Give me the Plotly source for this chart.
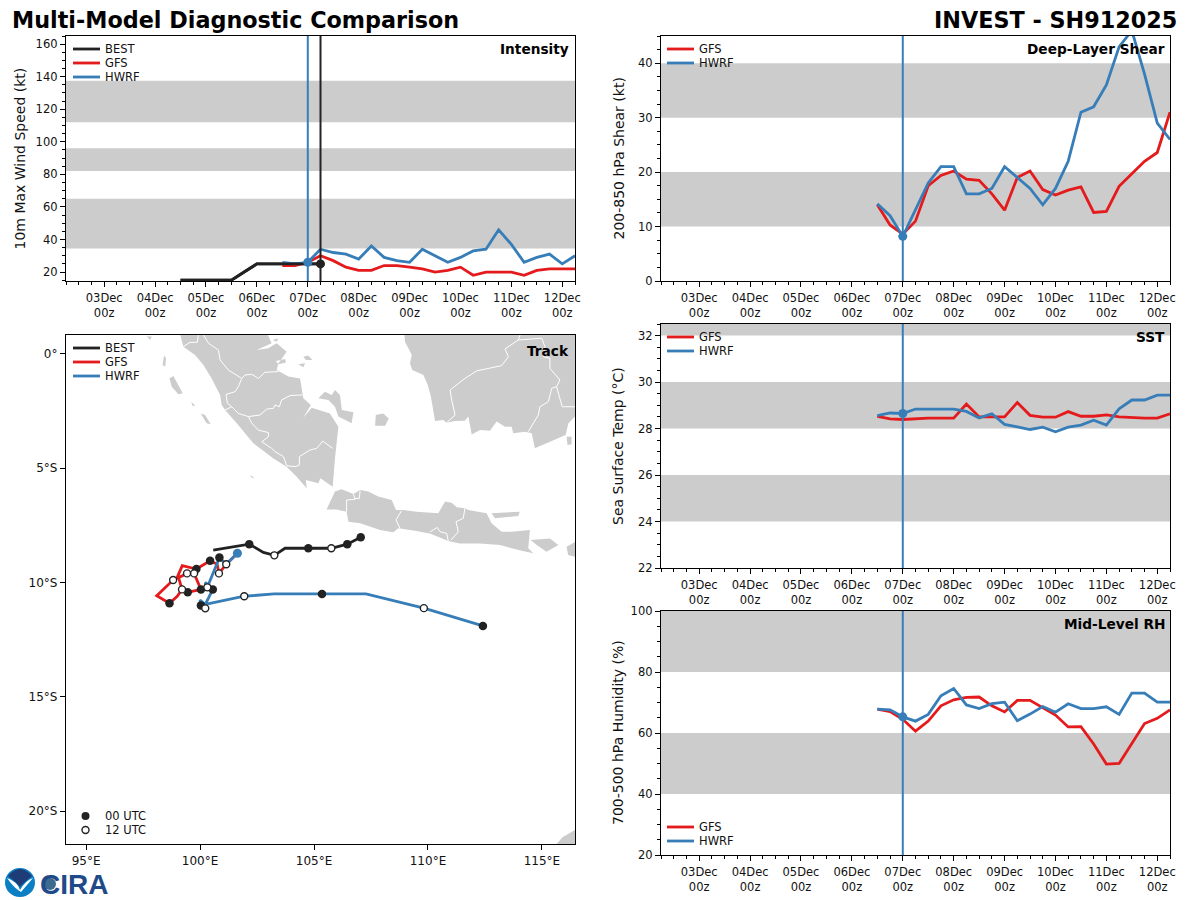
import pandas as pd
import plotly.graph_objects as go

W, H = 1200, 900
FONT = "DejaVu Sans"
GFS_COLOR = "#e41a1c"
HWRF_COLOR = "#377eb8"
BEST_COLOR = "#222222"
BAND_COLOR = "#cccccc"

# ---- time series data, 6-hourly ----
fcst_times = pd.date_range("2025-12-06 12:00", "2025-12-12 06:00", freq="6h")
best_times = pd.date_range("2025-12-04 12:00", "2025-12-07 06:00", freq="6h")
init_time = "2025-12-07 00:00"
best_last_time = "2025-12-07 06:00"

best_wind = [15, 15, 15, 15, 15, 20, 25, 25, 25, 25, 25, 25]
gfs_wind = [24, 24, 26, 30, 27, 23, 21, 21, 24, 24, 23, 22, 20, 21, 23, 18, 20, 20, 20, 18, 21, 22, 22, 22]
hwrf_wind = [26, 25, 26, 34, 32, 31, 28, 36, 29, 27, 26, 34, 30, 26, 29, 33, 34, 46, 37, 26, 29, 31, 25, 30]

gfs_shear = [14, 10.3, 8.6, 11, 17.5, 19.4, 20.2, 18.7, 18.5, 16, 13, 19, 20.2, 16.8, 15.8, 16.7, 17.3, 12.6, 12.8, 17.4, 19.7, 22, 23.6, 31]
hwrf_shear = [14.2, 12, 8.2, 13, 18, 21, 21, 16, 16, 17, 21, 19, 17, 14, 17, 22, 31, 32, 36, 43, 46, 38, 29, 26]

gfs_sst = [28.53, 28.42, 28.39, 28.43, 28.45, 28.45, 28.45, 29.06, 28.5, 28.5, 28.5, 29.12, 28.57, 28.49, 28.49, 28.73, 28.53, 28.53, 28.59, 28.5, 28.46, 28.45, 28.45, 28.64]
hwrf_sst = [28.56, 28.67, 28.65, 28.84, 28.84, 28.84, 28.84, 28.74, 28.46, 28.64, 28.18, 28.07, 27.96, 28.06, 27.86, 28.06, 28.15, 28.36, 28.15, 28.85, 29.23, 29.23, 29.44, 29.44]

gfs_rh = [67.8, 67, 64.5, 60.6, 63.9, 68.9, 70.9, 71.7, 71.8, 68.9, 66.9, 70.7, 70.7, 68.4, 65.9, 62, 62.1, 56.4, 49.8, 50, 56.4, 63.1, 64.8, 67.6]
hwrf_rh = [67.8, 67.6, 65.3, 63.9, 66.1, 72.2, 74.6, 69.2, 68, 69.6, 70.1, 64, 66.2, 68.7, 66.8, 69.6, 68, 68, 68.6, 66.1, 73.1, 73.1, 70.1, 70.1]

tick_days = pd.date_range("2025-12-03", "2025-12-12", freq="D")
tick_text = [d.strftime("%d%b") + "<br>00z" for d in tick_days]

wind_bands = [(34.5, 65), (82, 96), (112, 137.5)]
shear_bands = [(10, 20), (30, 40)]
sst_bands = [(24, 26), (28, 30), (32, 34)]
rh_bands = [(40, 60), (80, 100)]

# ---- track data (lon, lat) ----
best_track = [(107.05, -8.02), (106.46, -8.32), (105.76, -8.5), (104.75, -8.5), (103.73, -8.5), (103.26, -8.81), (102.78, -8.68), (102.16, -8.32), (100.58, -8.58)]
best_00 = [(107.05, -8.02), (106.46, -8.32), (104.75, -8.5), (102.16, -8.32)]
best_12 = [(105.76, -8.5), (103.26, -8.81)]

gfs_track = [(101.64, -8.72), (101.15, -9.20), (100.83, -9.60), (100.75, -9.2), (100.44, -9.05), (99.84, -9.41), (99.22, -9.26), (98.98, -9.82), (99.43, -9.60), (99.74, -9.60), (100.04, -10.30), (99.46, -10.43), (99.21, -10.30), (99.05, -9.75), (98.82, -9.89), (98.10, -10.58), (98.66, -10.91), (99.0, -10.6), (99.21, -10.30)]
gfs_00 = [(100.44, -9.05), (99.84, -9.41), (100.04, -10.30), (99.46, -10.43), (98.66, -10.91)]
gfs_12 = [(101.15, -9.20), (100.83, -9.60), (99.74, -9.60), (99.43, -9.60), (98.82, -9.89), (99.21, -10.30)]

hwrf_track = [(101.64, -8.72), (101.15, -9.20), (100.85, -8.91), (100.32, -10.21), (100.22, -9.99), (100.56, -10.30), (100.23, -10.96), (100.00, -10.77), (100.04, -11.0), (100.23, -11.13), (100.23, -10.96), (101.94, -10.6), (103.25, -10.5), (105.35, -10.5), (107.28, -10.5), (109.82, -11.12), (112.41, -11.9)]
hwrf_00 = [(100.85, -8.91), (100.56, -10.30), (100.04, -11.0), (105.35, -10.5), (112.41, -11.9)]
hwrf_12 = [(100.32, -10.21), (100.23, -11.13), (101.94, -10.6), (109.82, -11.12)]
track_start = (101.64, -8.72)

lon_ticks = [95, 100, 105, 110, 115]
lon_labels = ["95°E", "100°E", "105°E", "110°E", "115°E"]
lat_ticks = [0, -5, -10, -15, -20]
lat_labels = ["0°", "5°S", "10°S", "15°S", "20°S"]

# ---- coastlines, traced by hand ----
sumatra = [(99.10, 0.95), (99.27, 0.32), (99.78, -0.04), (100.15, -0.48), (100.51, -1.07), (100.88, -1.79), (100.95, -2.23), (101.10, -2.45), (101.61, -3.03), (102.34, -3.91), (103.22, -4.57), (103.80, -4.93), (104.24, -5.37), (104.68, -5.88), (104.64, -5.51), (105.19, -5.66), (105.28, -5.44), (105.82, -5.81), (105.92, -4.57), (106.07, -3.18), (105.70, -2.60), (104.90, -2.35), (104.53, -2.79), (104.86, -2.23), (104.53, -1.94), (104.39, -1.07), (103.88, -0.99), (103.36, -0.70), (103.44, -0.41), (103.80, 0.10), (103.36, 0.47), (103.00, 0.25), (102.49, 0.17), (103.14, 0.47), (102.93, 0.95)]
bangka = [(105.19, -1.94), (105.48, -1.65), (105.78, -1.80), (105.92, -1.58), (106.14, -1.80), (106.22, -2.45), (106.73, -2.55), (106.65, -3.03), (106.07, -2.74), (105.92, -2.31), (105.63, -2.01)]
belitung = [(107.71, -2.67), (108.04, -2.61), (108.28, -2.82), (108.12, -3.14), (107.68, -3.14)]
siberut = [(98.66, -1.07), (98.83, -0.96), (99.24, -1.72), (99.05, -1.76), (98.76, -1.43)]
sipura = [(99.61, -2.09), (99.78, -2.26), (99.68, -2.29)]
pagai = [(100.03, -2.60), (100.22, -2.67), (100.47, -3.08), (100.29, -3.03)]
nias = [(98.42, -0.07), (98.51, -0.19), (98.47, -0.56), (98.36, -0.48)]
simeulue = [(97.66, 0.76), (97.88, 0.76), (97.81, 0.61)]
enggano = [(102.19, -5.30), (102.41, -5.44), (102.25, -5.40)]
riau_a = [(103.33, -0.31), (103.73, -0.22), (103.77, -0.37), (103.44, -0.45)]
riau_b = [(104.31, -0.45), (104.61, -0.41), (104.53, -0.58)]
riau_c = [(104.53, -0.12), (104.75, -0.07), (104.93, -0.26), (104.64, -0.26)]
riau_d = [(103.19, 0.61), (103.44, 0.69), (103.36, 0.54)]
borneo = [(108.96, 0.95), (108.99, 0.54), (109.14, 0.25), (109.29, -0.04), (109.21, -0.41), (109.31, -0.70), (109.80, -0.92), (109.99, -1.36), (110.13, -1.87), (110.24, -2.52), (110.31, -2.93), (110.67, -2.89), (110.82, -3.01), (111.19, -2.93), (111.62, -2.92), (111.77, -2.74), (111.92, -3.52), (112.28, -3.33), (112.72, -3.36), (113.01, -2.96), (113.38, -3.18), (113.67, -3.18), (113.74, -3.47), (114.26, -3.40), (114.55, -3.47), (114.69, -4.13), (115.43, -3.81), (116.04, -3.55), (116.16, -3.03), (116.45, -2.74), (117.03, -2.74), (117.03, 0.95)]
laut = [(116.08, -3.62), (116.30, -3.62), (116.30, -3.95), (116.12, -3.98)]
java = [(105.55, -6.80), (105.92, -6.02), (106.21, -5.92), (106.73, -6.13), (107.02, -5.95), (107.38, -6.02), (107.82, -6.24), (108.41, -6.39), (108.60, -6.83), (108.92, -6.83), (109.50, -6.90), (110.45, -6.97), (110.75, -6.46), (111.04, -6.51), (111.26, -6.71), (111.62, -6.75), (111.77, -6.83), (112.57, -6.97), (112.79, -7.41), (113.23, -7.78), (113.67, -7.78), (114.47, -7.70), (114.40, -8.50), (114.62, -8.72), (114.11, -8.61), (113.16, -8.36), (112.28, -8.29), (111.40, -8.29), (110.89, -8.18), (110.09, -7.85), (109.43, -7.73), (108.70, -7.63), (108.48, -7.80), (107.90, -7.70), (107.02, -7.41), (106.51, -7.34), (106.43, -6.90), (105.99, -6.80)]
madura = [(112.79, -6.97), (114.03, -6.90), (113.96, -7.09), (112.94, -7.19)]
bali = [(114.50, -8.14), (115.35, -8.07), (115.72, -8.36), (115.20, -8.65), (114.77, -8.36)]
lombok = [(116.08, -8.43), (116.49, -8.21), (116.60, -8.90), (116.15, -8.80)]
australia = [(115.5, -21.6), (115.9, -21.15), (116.5, -20.8), (116.6, -21.6)]
land_polys = [sumatra, bangka, belitung, siberut, sipura, pagai, nias, simeulue, enggano, riau_a, riau_b, riau_c, riau_d, borneo, laut, java, madura, bali, lombok, australia]

# province borders
sum_a = [(100.15, 0.83), (100.37, 0.47), (100.81, 0.17), (100.88, -0.26), (101.24, -0.70), (101.83, -1.07), (101.97, -0.92), (102.27, -0.89), (102.56, -1.07), (102.85, -0.80), (103.44, -0.77)]
sum_b = [(101.83, -1.07), (101.68, -1.43), (101.54, -1.65), (101.14, -1.77), (101.20, -2.16), (101.39, -2.31), (101.68, -2.60), (102.12, -2.74), (102.63, -2.67), (102.93, -2.41), (103.22, -2.38), (103.29, -2.23), (103.48, -2.31), (103.58, -2.01), (103.95, -1.82), (104.50, -1.79)]
sum_c = [(102.12, -2.74), (102.27, -3.03), (102.56, -3.33), (103.00, -3.44), (103.00, -3.62), (102.71, -3.84), (103.14, -4.13), (103.29, -4.27), (103.66, -4.49), (103.80, -4.89), (104.17, -4.93), (104.36, -4.86), (104.36, -4.49), (104.83, -4.20), (105.12, -4.13), (105.38, -3.81), (105.82, -4.13)]
sum_d = [(101.10, -2.45), (101.39, -2.31)]
sum_e = [(99.27, 0.32), (99.56, 0.51), (99.88, 0.51), (99.93, 0.83)]
bor_a = [(110.82, -3.01), (111.19, -2.67), (111.04, -2.01), (110.97, -1.58), (111.62, -1.07), (112.14, -0.74), (113.23, -0.51), (113.53, -0.12), (113.38, 0.22), (113.96, 0.61), (114.99, 0.69), (115.13, 0.32), (115.06, -0.12), (115.35, -0.19), (115.35, -0.63), (115.79, -1.14), (115.64, -1.43), (115.43, -1.50), (115.28, -2.09), (114.91, -2.31), (114.84, -2.67), (114.40, -3.40)]
bor_b = [(115.64, -1.43), (115.89, -2.31), (116.45, -2.31)]
bor_c = [(113.96, 0.61), (114.04, 0.83)]
jav_a = [(106.43, -6.90), (106.43, -6.39), (106.80, -6.36), (106.73, -6.13)]
jav_b = [(106.80, -6.32), (106.99, -6.32), (107.02, -5.99)]
jav_c = [(108.84, -6.86), (108.60, -7.26), (108.77, -7.63)]
jav_d = [(111.62, -6.75), (111.55, -7.19), (111.23, -7.34), (111.33, -7.78), (111.01, -8.14)]
jav_e = [(110.09, -7.78), (110.41, -7.59), (110.53, -7.78), (110.82, -7.85), (110.89, -8.18)]
border_lines = [sum_a, sum_b, sum_c, sum_d, sum_e, bor_a, bor_b, bor_c, jav_a, jav_b, jav_c, jav_d, jav_e]


def fx(px):
    return px / W


def fy(py):
    return 1 - py / H


def split(pairs):
    return [p[0] for p in pairs], [p[1] for p in pairs]


def join_paths(paths, close=False):
    xs, ys = [], []
    for path in paths:
        x, y = split(path)
        if close:
            x, y = x + x[:1], y + y[:1]
        xs += x + [None]
        ys += y + [None]
    return xs, ys


fig = go.Figure()

# axes boxes in pixels: name, x0, x1, y0(top), y1(bottom)
panels = {
    "wind": ("x", "y", 66, 575, 36, 281),
    "track": ("x2", "y2", 66, 575, 335, 844),
    "shear": ("x3", "y3", 661, 1170, 36, 281),
    "sst": ("x4", "y4", 661, 1170, 324, 568),
    "rh": ("x5", "y5", 661, 1170, 611, 855),
}

axis_common = dict(
    showline=True, mirror=True, linecolor="black", linewidth=1.3, automargin=False,
    ticks="outside", ticklen=5, tickwidth=1.1, tickcolor="black",
    showgrid=False, zeroline=False,
    tickfont=dict(family=FONT, size=11.5, color="#111111"),
)


def style_time_axes(name, y_range, y_dtick, y_minor, y_title, title_px):
    xa, ya, x0, x1, y0, y1 = panels[name]
    suffix_x, suffix_y = xa[1:], ya[1:]
    fig.layout["xaxis" + suffix_x] = dict(
        axis_common, type="date", anchor=ya,
        domain=[fx(x0), fx(x1)],
        range=["2025-12-02 06:00", "2025-12-12 06:00"],
        tickmode="array", tickvals=list(tick_days), ticktext=tick_text, ticklabelstandoff=1,
        minor=dict(ticks="outside", ticklen=3, tickwidth=1, tickcolor="black",
                   tick0="2025-12-02 00:00", dtick=21600000, showgrid=False),
    )
    fig.layout["yaxis" + suffix_y] = dict(
        axis_common, anchor=xa,
        domain=[fy(y1), fy(y0)],
        range=y_range, tick0=0 if y_dtick != 2 else 22, dtick=y_dtick,
        minor=dict(ticks="outside", ticklen=3, tickwidth=1, tickcolor="black",
                   dtick=y_minor, showgrid=False),
    )
    # y title placed by hand, the axis one gets squeezed with zero margins
    fig.add_annotation(xref="paper", yref="paper", x=fx(title_px), y=fy((y0 + y1) / 2),
                       xanchor="center", yanchor="middle",
                       text=y_title, textangle=-90, showarrow=False,
                       font=dict(family=FONT, size=14, color="#111111"))


def add_bands(name, bands):
    xa, ya = panels[name][:2]
    for lo, hi in bands:
        fig.add_shape(type="rect", xref=xa + " domain", yref=ya, x0=0, x1=1, y0=lo, y1=hi,
                      fillcolor=BAND_COLOR, line_width=0, layer="below")


def add_series(name, times, values, color):
    xa, ya = panels[name][:2]
    fig.add_trace(go.Scatter(x=list(times), y=values, mode="lines", xaxis=xa, yaxis=ya,
                             line=dict(color=color, width=2.8), showlegend=False))


def add_vline(name, when, color):
    xa, ya = panels[name][:2]
    fig.add_shape(type="line", xref=xa, yref=ya + " domain", x0=when, x1=when, y0=0, y1=1,
                  line=dict(color=color, width=2), layer="above")


def add_marker(name, when, value, color):
    xa, ya = panels[name][:2]
    fig.add_trace(go.Scatter(x=[when], y=[value], mode="markers", xaxis=xa, yaxis=ya,
                             marker=dict(color=color, size=9), showlegend=False, cliponaxis=False))


def label(text, px, py, size=12, weight="normal", anchor="left", color="#111111", family=FONT):
    fig.add_annotation(xref="paper", yref="paper", x=fx(px), y=fy(py), text=text, showarrow=False,
                       xanchor=anchor, yanchor="middle", align=anchor,
                       font=dict(family=family, size=size, color=color, weight=weight))


def add_legend(px, rows):
    for py, name, color in rows:
        fig.add_shape(type="line", xref="paper", yref="paper", x0=fx(px), x1=fx(px + 27),
                      y0=fy(py), y1=fy(py), line=dict(color=color, width=2.8), layer="above")
        label(name, px + 30, py, size=11.5)


# ---- intensity ----
style_time_axes("wind", [14.5, 165], 20, 5, "10m Max Wind Speed (kt)", 19)
add_bands("wind", wind_bands)
add_series("wind", best_times, best_wind, BEST_COLOR)
add_series("wind", fcst_times, gfs_wind, GFS_COLOR)
add_series("wind", fcst_times, hwrf_wind, HWRF_COLOR)
add_series("wind", best_times, best_wind, BEST_COLOR)
add_vline("wind", init_time, HWRF_COLOR)
add_vline("wind", best_last_time, BEST_COLOR)
add_marker("wind", init_time, hwrf_wind[2], HWRF_COLOR)
add_marker("wind", best_last_time, best_wind[-1], BEST_COLOR)
add_legend(73, [(49, "BEST", BEST_COLOR), (63, "GFS", GFS_COLOR), (77, "HWRF", HWRF_COLOR)])
label("Intensity", 571, 49, size=13.7, weight="bold", anchor="right", color="black")

# ---- shear ----
style_time_axes("shear", [0, 45], 10, 2.5, "200-850 hPa Shear (kt)", 618)
add_bands("shear", shear_bands)
add_series("shear", fcst_times, gfs_shear, GFS_COLOR)
add_series("shear", fcst_times, hwrf_shear, HWRF_COLOR)
add_vline("shear", init_time, HWRF_COLOR)
add_marker("shear", init_time, hwrf_shear[2], HWRF_COLOR)
add_legend(667, [(49, "GFS", GFS_COLOR), (63, "HWRF", HWRF_COLOR)])
label("Deep-Layer Shear", 1167, 49, size=13.7, weight="bold", anchor="right", color="black")

# ---- SST ----
style_time_axes("sst", [22, 32.5], 2, 0.5, "Sea Surface Temp (°C)", 618)
add_bands("sst", sst_bands)
add_series("sst", fcst_times, gfs_sst, GFS_COLOR)
add_series("sst", fcst_times, hwrf_sst, HWRF_COLOR)
add_vline("sst", init_time, HWRF_COLOR)
add_marker("sst", init_time, hwrf_sst[2], HWRF_COLOR)
add_legend(667, [(337, "GFS", GFS_COLOR), (351, "HWRF", HWRF_COLOR)])
label("SST", 1167, 337, size=13.7, weight="bold", anchor="right", color="black")

# ---- RH ----
style_time_axes("rh", [20, 100], 20, 5, "700-500 hPa Humidity (%)", 618)
add_bands("rh", rh_bands)
add_series("rh", fcst_times, gfs_rh, GFS_COLOR)
add_series("rh", fcst_times, hwrf_rh, HWRF_COLOR)
add_vline("rh", init_time, HWRF_COLOR)
add_marker("rh", init_time, hwrf_rh[2], HWRF_COLOR)
add_legend(667, [(827, "GFS", GFS_COLOR), (841, "HWRF", HWRF_COLOR)])
label("Mid-Level RH", 1167, 624, size=13.7, weight="bold", anchor="right", color="black")

# ---- track map ----
xa, ya, x0, x1, y0, y1 = panels["track"]
track_axis = dict(axis_common, tickfont=dict(family=FONT, size=12, color="#111111"))
fig.update_layout(
    xaxis2=dict(track_axis, anchor=ya, domain=[fx(x0), fx(x1)], range=[94.12, 116.45],
                tickmode="array", tickvals=lon_ticks, ticktext=lon_labels),
    yaxis2=dict(track_axis, anchor=xa, domain=[fy(y1), fy(y0)], range=[-21.44, 0.83],
                tickmode="array", tickvals=lat_ticks, ticktext=lat_labels),
)

land_x, land_y = join_paths(land_polys, close=True)
fig.add_trace(go.Scatter(x=land_x, y=land_y, mode="lines", fill="toself", fillcolor=BAND_COLOR,
                         line=dict(width=0, color=BAND_COLOR), hoverinfo="skip",
                         xaxis=xa, yaxis=ya, showlegend=False))
border_x, border_y = join_paths(border_lines)
fig.add_trace(go.Scatter(x=border_x, y=border_y, mode="lines", line=dict(color="white", width=1),
                         hoverinfo="skip", xaxis=xa, yaxis=ya, showlegend=False))

for path, color in [(gfs_track, GFS_COLOR), (hwrf_track, HWRF_COLOR), (best_track, BEST_COLOR)]:
    lon, lat = split(path)
    fig.add_trace(go.Scatter(x=lon, y=lat, mode="lines", line=dict(color=color, width=2.8),
                             xaxis=xa, yaxis=ya, showlegend=False))

lon, lat = split(gfs_00 + hwrf_00 + best_00)
fig.add_trace(go.Scatter(x=lon, y=lat, mode="markers", xaxis=xa, yaxis=ya, showlegend=False,
                         marker=dict(color=BEST_COLOR, size=8.5)))
lon, lat = split(gfs_12 + hwrf_12 + best_12)
fig.add_trace(go.Scatter(x=lon, y=lat, mode="markers", xaxis=xa, yaxis=ya, showlegend=False,
                         marker=dict(color="white", size=7, line=dict(color=BEST_COLOR, width=1.4))))
fig.add_trace(go.Scatter(x=[track_start[0]], y=[track_start[1]], mode="markers", xaxis=xa, yaxis=ya,
                         showlegend=False, marker=dict(color=HWRF_COLOR, size=9)))

add_legend(73, [(348, "BEST", BEST_COLOR), (362, "GFS", GFS_COLOR), (376, "HWRF", HWRF_COLOR)])
label("Track", 571, 351, size=13.7, weight="bold", anchor="right", color="black")

# utc key, drawn in paper space like the other legends
fig.add_shape(type="circle", xref="paper", yref="paper", x0=fx(81.5), x1=fx(89.5), y0=fy(820), y1=fy(812),
              fillcolor=BEST_COLOR, line_width=0, layer="above")
fig.add_shape(type="circle", xref="paper", yref="paper", x0=fx(82), x1=fx(89), y0=fy(833.5), y1=fy(826.5),
              fillcolor="white", line=dict(color=BEST_COLOR, width=1.4), layer="above")
label("00 UTC", 103, 816, size=11.5)
label("12 UTC", 103, 830, size=11.5)

# ---- titles ----
label("Multi-Model Diagnostic Comparison", 10, 20, size=22.3, weight="bold", color="black")
label("INVEST - SH912025", 1179, 20, size=22.3, weight="bold", anchor="right", color="black")

# ---- logos, rough redraw ----
fig.add_shape(type="circle", xref="paper", yref="paper", x0=fx(5), x1=fx(35), y0=fy(897), y1=fy(868),
              fillcolor="#0a7fc4", line_width=0, layer="above")
fig.add_shape(type="path", xref="paper", yref="paper", layer="above", line_width=0, fillcolor="#1d3c78",
              path=f"M {fx(8)} {fy(876)} Q {fx(20)} {fy(862)} {fx(32)} {fy(876)} Q {fx(22)} {fy(884)} {fx(20)} {fy(887)} Q {fx(16)} {fy(882)} {fx(8)} {fy(876)} Z")
fig.add_shape(type="path", xref="paper", yref="paper", layer="above", line_width=0, fillcolor="white",
              path=f"M {fx(7)} {fy(878)} Q {fx(18)} {fy(882)} {fx(20)} {fy(890)} Q {fx(26)} {fy(880)} {fx(33)} {fy(878)} Q {fx(27)} {fy(885)} {fx(21)} {fy(892)} Q {fx(14)} {fy(888)} {fx(7)} {fy(878)} Z")
label("CIRA", 38, 884, size=28, weight="bold", color="#1f4a8a", family="Liberation Sans")
fig.add_shape(type="circle", xref="paper", yref="paper", x0=fx(44), x1=fx(56), y0=fy(890), y1=fy(878),
              fillcolor="#3d6a8f", line_width=0, layer="above")

fig.update_layout(
    width=W, height=H, margin=dict(l=0, r=0, t=0, b=0),
    paper_bgcolor="white", plot_bgcolor="white",
    showlegend=False, font=dict(family=FONT),
)

fig.write_html("out.html", config={"displayModeBar": False}, post_script="document.body.style.margin='0';")
